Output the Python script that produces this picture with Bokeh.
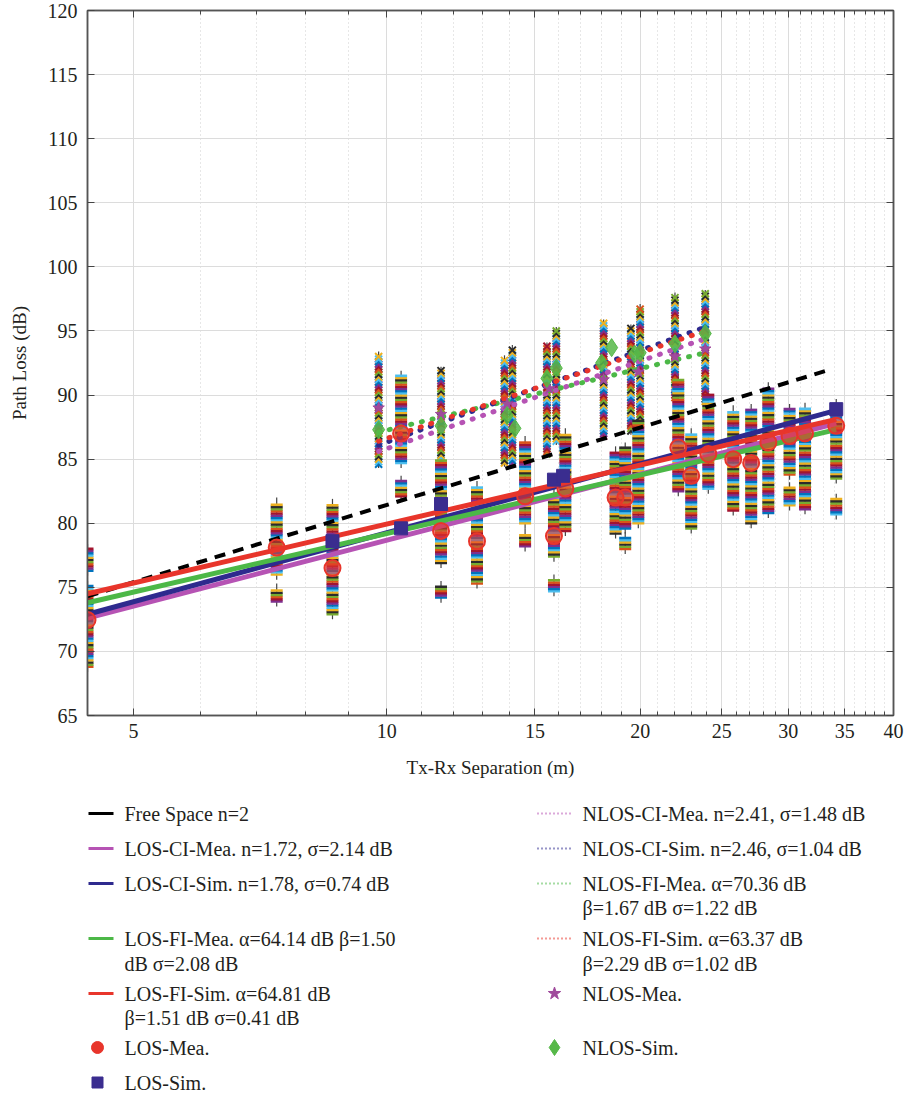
import numpy as np
from bokeh.plotting import figure
from bokeh.models import Range1d, FixedTicker, LogAxis, LinearAxis, PrintfTickFormatter, CustomJSTickFormatter
from bokeh.layouts import column
from bokeh.embed import file_html
from bokeh.resources import INLINE
from bokeh.core.properties import value

FONT = "Liberation Serif"
TXT = "#231f20"

# ---------------- data ----------------
x_ticks = [5, 10, 15, 20, 25, 30, 35, 40]
x_minor = list(range(5, 41))
y_ticks = list(range(65, 121, 5))

# model lines (end points)
fs_x = [4.41, 33.3]
fs_y = [74.3, 91.9]
los_x = [4.41, 34.2]
los_ci_mea = [72.6, 87.8]
los_ci_sim = [72.9, 88.8]
los_fi_mea = [73.8, 87.3]
los_fi_sim = [74.5, 88.1]
nlos_x = [9.78, 23.9]
nlos_ci_mea = [85.6, 94.4]
nlos_ci_sim = [86.1, 95.3]
nlos_fi_mea = [87.1, 93.3]
nlos_fi_sim = [86.4, 95.0]

# LOS raw-sample clusters: distance, lowest, highest path loss
los_col_d = [4.41, 4.41, 7.40, 7.40, 8.62, 10.4, 10.4, 11.6, 11.6, 12.8, 14.6, 14.6,
             15.8, 15.8, 16.3, 18.7, 19.2, 19.2, 19.9, 22.2, 23.0, 24.1, 25.8, 27.1,
             28.4, 30.1, 30.1, 31.4, 34.2, 34.2]
los_col_lo = [76.3, 68.8, 76.0, 73.9, 72.9, 84.7, 82.1, 76.9, 74.2, 75.3, 80.0, 78.2,
              77.4, 74.7, 79.4, 79.2, 79.6, 78.0, 80.0, 82.5, 79.6, 82.7, 81.0, 80.0,
              80.8, 83.8, 81.4, 81.1, 83.5, 80.7]
los_col_hi = [78.0, 75.1, 81.6, 74.9, 81.5, 91.5, 83.3, 84.9, 75.1, 82.9, 86.4, 79.2,
              82.3, 75.6, 87.0, 85.6, 85.9, 78.9, 88.0, 91.3, 87.0, 90.1, 88.8, 88.9,
              90.6, 88.9, 82.8, 89.0, 89.3, 81.9]

# NLOS raw-sample clusters
nlos_col_d = [9.78, 11.6, 13.8, 14.1, 15.5, 15.9, 18.1, 19.5, 20.0, 22.0, 23.9]
nlos_col_lo = [84.6, 84.3, 84.7, 84.7, 85.4, 86.4, 86.8, 87.2, 87.7, 89.8, 89.5]
nlos_col_hi = [93.1, 91.9, 92.8, 93.6, 93.8, 95.0, 95.6, 95.2, 96.8, 97.7, 97.9]

# mean values
los_mea_d = [4.41, 7.40, 8.62, 10.4, 11.6, 12.8, 14.6, 15.8, 16.3, 18.7, 19.2, 22.2,
             23.0, 24.1, 25.8, 27.1, 28.4, 30.1, 31.4, 34.2]
los_mea_pl = [72.45, 78.1, 76.5, 87.0, 79.4, 78.6, 82.1, 79.0, 82.7, 82.0, 82.0, 85.9,
              83.7, 85.4, 85.0, 84.7, 86.3, 86.8, 87.0, 87.6]
los_sim_d = [8.62, 10.4, 11.6, 15.8, 16.2, 34.2]
los_sim_pl = [78.6, 79.6, 81.5, 83.4, 83.7, 88.9]
nlos_sim_d = [9.78, 11.6, 13.9, 14.2, 15.5, 15.9, 18.0, 18.5, 19.7, 20.0, 22.0, 23.9]
nlos_sim_pl = [87.3, 87.6, 88.4, 87.4, 91.3, 92.1, 92.5, 93.7, 93.2, 93.3, 94.0, 94.8]
nlos_mea_d = [9.78, 11.6, 13.9, 15.6, 18.1, 19.9, 22.0, 23.9]
nlos_mea_pl = [89.0, 88.5, 89.3, 90.5, 91.2, 91.8, 93.0, 93.6]

# ---------------- styles ----------------
MAG = "#b653b4"
NAVY = "#2e2a8e"
GRN = "#4cb847"
RED = "#e8352b"
CYC = ["#0072BD", "#D95319", "#EDB120", "#7E2F8E", "#77AC30", "#4DBEEE", "#A2142F", "#2b2b2b"]

p = figure(frame_width=806, frame_height=705, x_axis_type="log",
           x_range=Range1d(4.41, 40), y_range=Range1d(65, 120),
           output_backend="svg", toolbar_location=None,
           min_border_left=87, min_border_right=11, min_border_top=10, min_border_bottom=75,
           background_fill_color="white", border_fill_color="white")

xt = FixedTicker(ticks=x_ticks, minor_ticks=x_minor)
yt = FixedTicker(ticks=y_ticks, minor_ticks=[])

def style_axis(ax, labels=True):
    ax.axis_line_color = "#555555"
    ax.axis_line_width = 1.5
    ax.major_tick_in = 7
    ax.major_tick_out = 0
    ax.minor_tick_in = 4
    ax.minor_tick_out = 0
    ax.major_tick_line_color = "#444444"
    ax.minor_tick_line_color = "#444444"
    ax.major_label_text_font = FONT
    ax.major_label_text_font_size = "20px"
    ax.major_label_text_color = TXT
    if not labels:
        ax.major_label_text_font_size = "0px"
        ax.major_label_standoff = 0
        ax.formatter = CustomJSTickFormatter(code="return ''")

xa = p.xaxis[0]
xa.ticker = xt
xa.formatter = PrintfTickFormatter(format="%d")
style_axis(xa)
xa.major_label_standoff = 8
xa.axis_label = "Tx-Rx Separation (m)"
xa.axis_label_text_font = FONT
xa.axis_label_text_font_style = "normal"
xa.axis_label_text_font_size = "19px"
xa.axis_label_text_color = TXT
xa.axis_label_standoff = 16

ya = p.yaxis[0]
ya.ticker = yt
style_axis(ya)
ya.minor_tick_in = 0
ya.major_label_standoff = 10
ya.axis_label = "Path Loss (dB)"
ya.axis_label_text_font = FONT
ya.axis_label_text_font_style = "normal"
ya.axis_label_text_font_size = "19px"
ya.axis_label_text_color = TXT
ya.axis_label_standoff = 15

top = LogAxis(ticker=xt)
style_axis(top, labels=False)
p.add_layout(top, "above")
right = LinearAxis(ticker=yt)
style_axis(right, labels=False)
right.minor_tick_in = 0
p.add_layout(right, "right")

p.xgrid.ticker = xt
p.xgrid.grid_line_color = "#dcdcdc"
p.xgrid.grid_line_width = 1
p.xgrid.minor_grid_line_color = "#cfcfcf"
p.xgrid.minor_grid_line_dash = "1 3"
p.ygrid.ticker = yt
p.ygrid.grid_line_color = "#dcdcdc"
p.outline_line_color = "#555555"
p.outline_line_width = 1.5

# ---- raw sample clusters (stacked sample marks between low and high) ----
wx0, wy0, wx1, wy1 = [], [], [], []
sx, sy, sc = [], [], []
for i, (d, lo, hi) in enumerate(zip(los_col_d, los_col_lo, los_col_hi)):
    wx0.append(d); wx1.append(d); wy0.append(lo - 0.4); wy1.append(hi + 0.4)
    ys = np.arange(lo, hi + 1e-6, 0.17)
    for k, yv in enumerate(ys):
        sx.append(d); sy.append(yv); sc.append(CYC[(k * 3 + i) % len(CYC)])
nx, ny, nc = [], [], []
for i, (d, lo, hi) in enumerate(zip(nlos_col_d, nlos_col_lo, nlos_col_hi)):
    wx0.append(d); wx1.append(d); wy0.append(lo - 0.3); wy1.append(hi + 0.3)
    ys = np.arange(lo, hi + 1e-6, 0.2)
    for k, yv in enumerate(ys):
        nx.append(d); ny.append(yv); nc.append(CYC[(k * 5 + i) % len(CYC)])

p.segment(x0=wx0, y0=wy0, x1=wx1, y1=wy1, line_color="#444444", line_width=1.2)
p.scatter(x=nx, y=ny, marker="x", size=10, line_color=nc, line_width=2)
p.scatter(x=sx, y=sy, marker="dash", size=12, line_color=sc, line_width=2.6)

# ---- model lines ----
p.line(fs_x, fs_y, line_color="black", line_width=4, line_dash="11 8")
p.line(los_x, los_ci_mea, line_color=MAG, line_width=5)
p.line(los_x, los_ci_sim, line_color=NAVY, line_width=5)
p.line(los_x, los_fi_mea, line_color=GRN, line_width=5)
p.line(los_x, los_fi_sim, line_color=RED, line_width=5)
for ys_, c in [(nlos_ci_mea, MAG), (nlos_fi_mea, GRN), (nlos_ci_sim, NAVY), (nlos_fi_sim, RED)]:
    p.line(nlos_x, ys_, line_color=c, line_width=5, line_dash="1 10", line_cap="round")

# ---- means ----
p.scatter(x=nlos_mea_d, y=nlos_mea_pl, marker="star", size=12, fill_color="#a04a9c", line_color="#a04a9c")
p.scatter(x=los_mea_d, y=los_mea_pl, marker="circle", size=16, fill_color=RED, fill_alpha=0.6, line_color=RED, line_width=2)
p.scatter(x=los_sim_d, y=los_sim_pl, marker="square", size=13, fill_color="#3a2d8f", line_color="#3a2d8f")
p.scatter(x=nlos_sim_d, y=nlos_sim_pl, marker="diamond", size=18, fill_color="#56b848", fill_alpha=0.85, line_color="#56b848")

# ---------------- legend (below the plot; frame aligned with the plot frame) ----------------
lg = figure(frame_width=806, frame_height=303, x_range=Range1d(87, 893), y_range=Range1d(1093, 790),
            output_backend="svg", toolbar_location=None,
            min_border_left=87, min_border_right=11, min_border_top=0, min_border_bottom=0,
            x_axis_location=None, y_axis_location=None)
lg.grid.visible = False
lg.outline_line_color = None

L0, L1, LT = 88, 113, 124
R0, R1, RT = 537, 572, 582
line_items = [
    (L0, L1, 813, "black", None),
    (L0, L1, 848, MAG, None),
    (L0, L1, 883, NAVY, None),
    (L0, L1, 938, GRN, None),
    (L0, L1, 993, RED, None),
    (R0, R1, 813, MAG, "1 3"),
    (R0, R1, 848, NAVY, "1 3"),
    (R0, R1, 883, GRN, "1 3"),
    (R0, R1, 938, RED, "1 3"),
]
for x0, x1, yy, c, dash in line_items:
    if dash:
        lg.line([x0, x1], [yy, yy], line_color=c, line_width=2, line_dash=dash)
    else:
        lg.line([x0, x1], [yy, yy], line_color=c, line_width=3)
lg.scatter(x=[97], y=[1047], marker="circle", size=12, fill_color=RED, line_color=RED)
lg.scatter(x=[97], y=[1082], marker="square", size=11, fill_color="#3a2d8f", line_color="#3a2d8f")
lg.scatter(x=[554], y=[993], marker="star", size=13, fill_color="#a04a9c", line_color="#a04a9c")
lg.scatter(x=[554], y=[1047], marker="diamond", size=16, fill_color="#56b848", line_color="#56b848")

lt_x = [LT] * 9 + [RT] * 8
lt_y = [813, 848, 883, 938, 963, 993, 1017, 1047, 1082,
        813, 848, 883, 907, 938, 963, 993, 1047]
lt_t = ["Free Space n=2",
        "LOS-CI-Mea. n=1.72, σ=2.14 dB",
        "LOS-CI-Sim. n=1.78, σ=0.74 dB",
        "LOS-FI-Mea. α=64.14 dB β=1.50",
        "dB σ=2.08 dB",
        "LOS-FI-Sim. α=64.81 dB",
        "β=1.51 dB σ=0.41 dB",
        "LOS-Mea.",
        "LOS-Sim.",
        "NLOS-CI-Mea. n=2.41, σ=1.48 dB",
        "NLOS-CI-Sim. n=2.46, σ=1.04 dB",
        "NLOS-FI-Mea. α=70.36 dB",
        "β=1.67 dB σ=1.22 dB",
        "NLOS-FI-Sim. α=63.37 dB",
        "β=2.29 dB σ=1.02 dB",
        "NLOS-Mea.",
        "NLOS-Sim."]
lg.text(x=lt_x, y=lt_y, text=lt_t, text_font=value(FONT), text_font_size="20px",
        text_baseline="middle", text_align="left", text_color=TXT)

page = column(p, lg, spacing=0)
open("out.html", "w").write(file_html(page, INLINE))
